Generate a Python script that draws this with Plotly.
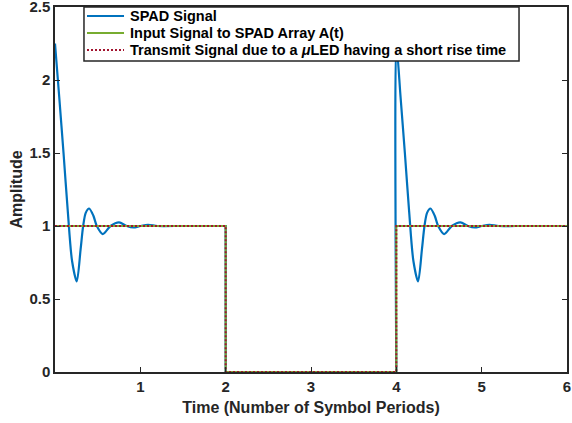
import plotly.graph_objects as go

# SPAD response after a rising edge (time offset, amplitude)
resp_t = [0.00, 0.05, 0.10, 0.15, 0.20, 0.255, 0.30, 0.33, 0.36, 0.40, 0.45, 0.49,
          0.56, 0.65, 0.75, 0.84, 0.92, 1.00, 1.09, 1.20, 1.40]
resp_y = [2.25, 1.88, 1.50, 1.10, 0.76, 0.62, 0.84, 1.00, 1.09, 1.12, 1.07, 1.00,
          0.945, 1.00, 1.025, 1.00, 0.99, 1.00, 1.008, 1.00, 1.00]

# SPAD signal over full time axis
spad_t = resp_t + [2.0, 2.0, 4.0] + [4.0 + t for t in resp_t] + [6.0]
spad_y = resp_y + [1.0, 0.0, 0.0] + resp_y + [1.0]

# Input and transmit signals (rectangular pulses)
in_t = [0.0, 2.0, 2.0, 4.0, 4.0, 6.0]
in_y = [1.0, 1.0, 0.0, 0.0, 1.0, 1.0]
tx_t = [0.0, 2.0, 2.0, 4.0, 4.0, 6.0]
tx_y = [1.0, 1.0, 0.0, 0.0, 1.0, 1.0]

x_ticks = [1, 2, 3, 4, 5, 6]
y_ticks = [0, 0.5, 1, 1.5, 2, 2.5]
y_labels = ["0", "0.5", "1", "1.5", "2", "2.5"]

series_names = ["SPAD Signal",
                "Input Signal to SPAD Array A(t)",
                "Transmit Signal due to a <i>μ</i>LED having a short rise time"]
series_colors = ["#0072BD", "#77AC30", "#A2142F"]
series_dash = ["solid", "solid", "2px,2px"]
series_width = [2.2, 2.0, 2.0]

font_fam = "Liberation Sans, Arial, sans-serif"
axc = "#262626"
n = len(resp_t)

fig = go.Figure()
blue = dict(color=series_colors[0], width=series_width[0])
fig.add_trace(go.Scatter(x=spad_t[:n], y=spad_y[:n], mode="lines",
                         line=dict(**blue, shape="spline", smoothing=0.8),
                         name=series_names[0], showlegend=False))
fig.add_trace(go.Scatter(x=spad_t[n-1:n+3], y=spad_y[n-1:n+3], mode="lines",
                         line=blue, showlegend=False))
fig.add_trace(go.Scatter(x=[4.0] + spad_t[n+3:], y=[0.0] + spad_y[n+3:], mode="lines",
                         line=dict(**blue, shape="spline", smoothing=0.8),
                         showlegend=False))
fig.add_trace(go.Scatter(x=in_t, y=in_y, mode="lines",
                         line=dict(color=series_colors[1], width=series_width[1]),
                         name=series_names[1], showlegend=False))
fig.add_trace(go.Scatter(x=tx_t, y=tx_y, mode="lines",
                         line=dict(color=series_colors[2], width=series_width[2], dash=series_dash[2]),
                         name=series_names[2], showlegend=False))

# Legend box (MATLAB style), drawn in paper coordinates
shapes = [dict(type="rect", xref="paper", yref="paper", x0=0.0566, x1=0.9063, y0=0.852, y1=1.0,
               fillcolor="white", line=dict(color=axc, width=1.5), layer="above")]
annotations = []
row_y = [0.9753, 0.9288, 0.8822]
for i, name in enumerate(series_names):
    shapes.append(dict(type="line", xref="paper", yref="paper", x0=0.0625, x1=0.1348,
                       y0=row_y[i], y1=row_y[i], layer="above",
                       line=dict(color=series_colors[i], width=series_width[i], dash=series_dash[i])))
    annotations.append(dict(xref="paper", yref="paper", x=0.1426, y=row_y[i], text=name,
                            showarrow=False, xanchor="left", yanchor="middle",
                            font=dict(size=14.5, family=font_fam, color="black", weight="bold")))

fig.update_layout(
    width=572, height=423,
    margin=dict(l=55, r=5, t=7, b=51, autoexpand=False),
    plot_bgcolor="white", paper_bgcolor="white",
    font=dict(family=font_fam, size=14, color=axc),
    showlegend=False,
    shapes=shapes, annotations=annotations,
    xaxis=dict(range=[0, 6], tickvals=x_ticks, ticktext=[str(v) for v in x_ticks],
               ticks="inside", ticklen=5, tickwidth=1.2, tickcolor=axc,
               showline=True, linecolor=axc, linewidth=1.5, mirror="ticks",
               showgrid=False, zeroline=False, automargin=False,
               ticklabeloverflow="allow",
               tickfont=dict(size=15, weight="bold"),
               title=dict(text="Time (Number of Symbol Periods)",
                          font=dict(size=16, weight="bold"), standoff=8)),
    yaxis=dict(range=[0, 2.5], tickvals=y_ticks, ticktext=y_labels,
               ticks="inside", ticklen=5, tickwidth=1.2, tickcolor=axc,
               showline=True, linecolor=axc, linewidth=1.5, mirror="ticks",
               showgrid=False, zeroline=False, automargin=False,
               ticklabeloverflow="allow",
               tickfont=dict(size=15, weight="bold"),
               title=dict(text="Amplitude", font=dict(size=16, weight="bold"), standoff=3)),
)

fig.write_html("out.html", config={"displayModeBar": False},
               post_script="document.body.style.margin='0';")
